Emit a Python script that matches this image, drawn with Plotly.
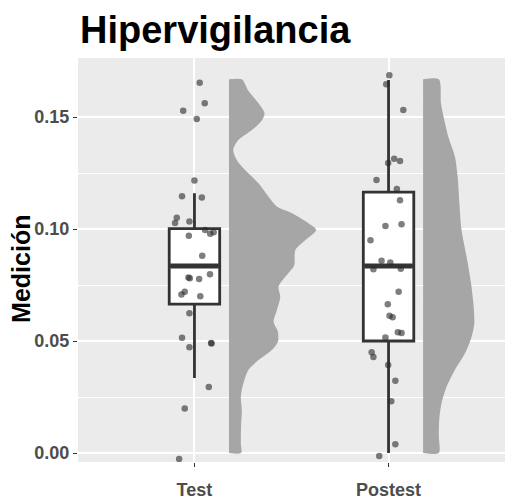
import plotly.graph_objects as go

# ---------------- data ----------------
categories = ["Test", "Postest"]
cat_pos = [1, 2]

# jittered observations (value, horizontal jitter offset in category units)
test_values = [0.1653, 0.1561, 0.1528, 0.1491, 0.1217, 0.1146, 0.1141, 0.1050, 0.1034, 0.1027,
               0.0996, 0.0985, 0.0979, 0.0970, 0.0881, 0.0798, 0.0784, 0.0780, 0.0777, 0.0720,
               0.0708, 0.0700, 0.0624, 0.0515, 0.0491, 0.0489, 0.0472, 0.0295, 0.0199, -0.0027]
test_jitter = [0.027, 0.053, -0.058, 0.012, 0.000, -0.064, 0.038, -0.091, -0.026, -0.100,
               0.055, 0.099, 0.081, -0.029, 0.040, 0.080, -0.031, -0.024, 0.024, -0.050,
               -0.067, 0.030, -0.026, -0.064, 0.086, 0.088, -0.026, 0.074, -0.050, -0.079]

post_values = [0.1686, 0.1646, 0.1531, 0.1314, 0.1304, 0.1295, 0.1219, 0.1179, 0.1128, 0.1021,
               0.1013, 0.0950, 0.0858, 0.0850, 0.0823, 0.0820, 0.0720, 0.0664, 0.0613, 0.0606,
               0.0539, 0.0536, 0.0516, 0.0450, 0.0429, 0.0393, 0.0323, 0.0231, 0.0039, -0.0013]
post_jitter = [0.004, -0.012, 0.076, 0.029, 0.059, -0.002, -0.062, 0.043, 0.059, 0.067,
               -0.016, -0.093, -0.036, 0.009, 0.063, -0.078, 0.052, -0.004, 0.005, 0.021,
               0.048, 0.067, -0.016, -0.087, -0.078, -0.002, 0.035, 0.014, 0.035, -0.048]

# box statistics (q1, median, q3, lower whisker, upper whisker)
box_q1 = [0.0665, 0.0500]
box_median = [0.0835, 0.0835]
box_q3 = [0.1002, 0.1165]
box_low = [0.0335, 0.0000]
box_high = [0.1160, 0.1665]

# half-violin density profiles (level, half-width in category units)
test_dens_y = [0.1668, 0.1621, 0.1561, 0.1517, 0.1487, 0.1442, 0.1397, 0.1353, 0.1308, 0.1263,
               0.1204, 0.1144, 0.1100, 0.1070, 0.1025, 0.0996, 0.0951, 0.0906, 0.0847, 0.0832,
               0.0787, 0.0742, 0.0698, 0.0638, 0.0586, 0.0542, 0.0497, 0.0460, 0.0415, 0.0371,
               0.0311, 0.0251, 0.0192, 0.0117, 0.0043, 0.0000]
test_dens_w = [0.066, 0.097, 0.152, 0.183, 0.171, 0.118, 0.048, 0.022, 0.040, 0.083,
               0.152, 0.204, 0.247, 0.325, 0.411, 0.449, 0.394, 0.342, 0.338, 0.333,
               0.290, 0.255, 0.264, 0.247, 0.230, 0.252, 0.252, 0.221, 0.152, 0.100,
               0.074, 0.061, 0.066, 0.062, 0.061, 0.062]

post_dens_y = [0.1668, 0.1561, 0.1487, 0.1412, 0.1323, 0.1234, 0.1115, 0.0996, 0.0877, 0.0758,
               0.0668, 0.0579, 0.0519, 0.0445, 0.0371, 0.0296, 0.0222, 0.0147, 0.0073, 0.0000]
post_dens_w = [0.081, 0.092, 0.109, 0.130, 0.164, 0.178, 0.187, 0.198, 0.224, 0.247,
               0.259, 0.264, 0.250, 0.216, 0.164, 0.121, 0.095, 0.083, 0.081, 0.081]

dens_offset = 0.178
box_width = 0.26

# ---------------- figure ----------------
fig = go.Figure()

# half violins
for c, ys, ws in [(cat_pos[0], test_dens_y, test_dens_w), (cat_pos[1], post_dens_y, post_dens_w)]:
    xs = [c + dens_offset] + [c + dens_offset + w for w in ws] + [c + dens_offset]
    yy = [ys[0]] + list(ys) + [ys[-1]]
    fig.add_trace(go.Scatter(x=xs, y=yy, fill="toself", mode="lines",
                             line=dict(width=0, color="#A6A6A6", shape="spline", smoothing=0.8),
                             fillcolor="#A6A6A6", hoverinfo="skip", showlegend=False))

# boxes
for i, c in enumerate(cat_pos):
    fig.add_trace(go.Box(x=[c], q1=[box_q1[i]], median=[box_median[i]], q3=[box_q3[i]],
                         lowerfence=[box_low[i]], upperfence=[box_high[i]],
                         width=box_width, whiskerwidth=0, boxpoints=False,
                         fillcolor="white", line=dict(color="#333333", width=2.8),
                         showlegend=False))
    # thicker median line
    fig.add_trace(go.Scatter(x=[c - box_width / 2 + 0.006, c + box_width / 2 - 0.006],
                             y=[box_median[i], box_median[i]], mode="lines",
                             line=dict(color="#333333", width=5), showlegend=False,
                             hoverinfo="skip"))

# jittered points
for c, vals, jit in [(cat_pos[0], test_values, test_jitter), (cat_pos[1], post_values, post_jitter)]:
    fig.add_trace(go.Scatter(x=[c + j for j in jit], y=vals, mode="markers",
                             marker=dict(size=6.5, color="rgba(40,40,40,0.6)", line=dict(width=0)),
                             showlegend=False))

font_family = "Liberation Sans, Arial, sans-serif"

fig.update_layout(
    width=521, height=499,
    margin=dict(l=78, r=16, t=58, b=37, autoexpand=False),
    paper_bgcolor="white", plot_bgcolor="#EBEBEB",
    font=dict(family=font_family),
    title=dict(text="Hipervigilancia", x=80 / 521, xanchor="left", xref="container",
               y=1 - 30 / 499, yanchor="middle", yref="container",
               font=dict(size=38, color="black", family=font_family, weight="bold")),
    xaxis=dict(range=[0.4, 2.6], tickvals=cat_pos, ticktext=categories, automargin=False,
               showgrid=True, gridcolor="white", gridwidth=1.8, zeroline=False,
               ticks="outside", ticklen=4, tickcolor="#333333", tickwidth=1.2,
               ticklabelstandoff=7,
               tickfont=dict(size=18, color="#4D4D4D", family=font_family, weight="bold")),
    yaxis=dict(range=[-0.00402, 0.17634], tickvals=[0, 0.05, 0.10, 0.15], automargin=False,
               ticktext=["0.00", "0.05", "0.10", "0.15"],
               showgrid=True, gridcolor="white", gridwidth=1.8, zeroline=False,
               minor=dict(tickvals=[0.025, 0.075, 0.125], showgrid=True,
                          gridcolor="white", gridwidth=0.8, ticks=""),
               ticks="outside", ticklen=4, tickcolor="#333333", tickwidth=1.2,
               tickfont=dict(size=18, color="#4D4D4D", family=font_family, weight="bold")),
    annotations=[dict(text="Medición", textangle=-90, xref="paper", yref="paper",
                      x=(21 - 78) / 427, y=0.478, xanchor="center", yanchor="middle",
                      showarrow=False,
                      font=dict(size=25, color="black", family=font_family, weight="bold"))],
)

fig.write_html("out.html")
